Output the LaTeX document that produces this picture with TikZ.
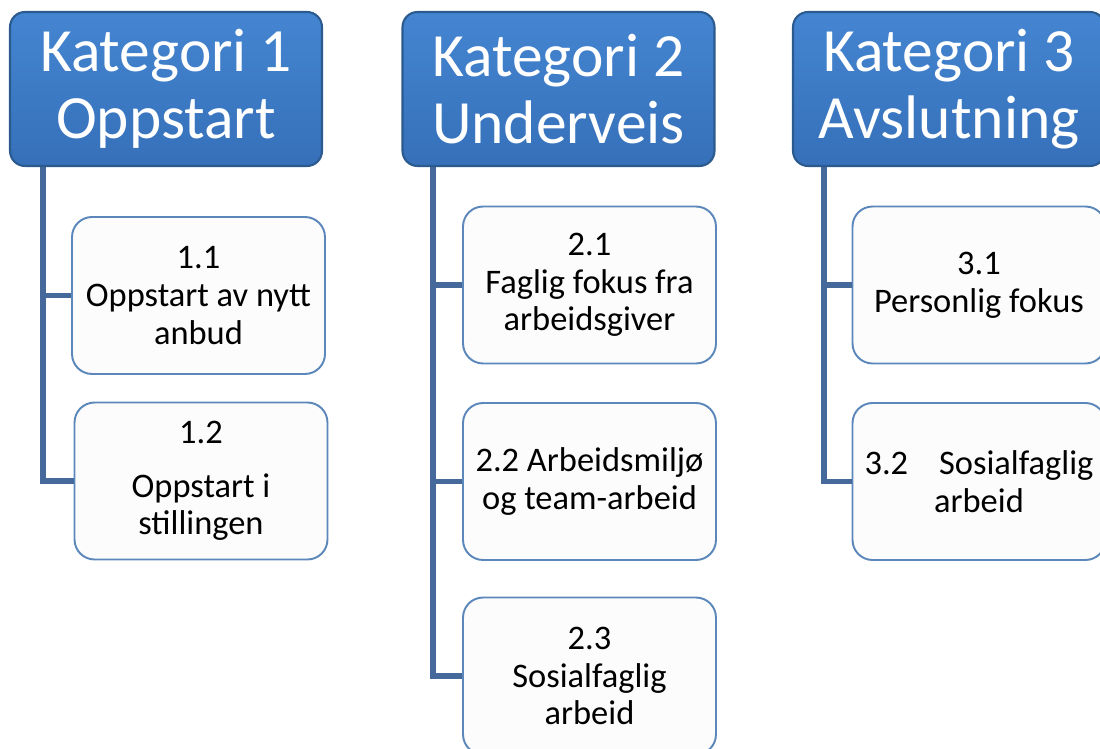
\documentclass[tikz,border=0pt]{standalone}
\usepackage{fontspec}
\setmainfont{Carlito}
\definecolor{kattop}{HTML}{4485D1}
\definecolor{katbot}{HTML}{3670B9}
\definecolor{katedge}{HTML}{2B5A8E}
\definecolor{boxedge}{HTML}{5B87BB}
\definecolor{linkblue}{HTML}{44699A}

\begin{document}
\begin{tikzpicture}[
		x=0.02cm, y=-0.02cm,
		kategori/.style={draw=katedge, line width=1.2pt, rounded corners=0.3cm,
			top color=kattop, bottom color=katbot, text=white, align=center,
			minimum width=6.24cm, minimum height=3.08cm, inner sep=0pt,
			font=\fontsize{35}{38}\selectfont},
		punkt/.style={draw=boxedge, line width=1.1pt, rounded corners=0.4cm,
			fill=white!99!black, align=center,
			minimum width=5.06cm, minimum height=3.14cm, inner sep=2pt,
			font=\fontsize{19.6}{21.5}\selectfont},
		grein/.style={draw=linkblue, line width=3.3pt}
		]
		\clip (0,0) rectangle (1100,749);

		\coordinate (s1) at (43,166);
		\coordinate (s2) at (433,166);
		\coordinate (s3) at (824,166);

		\node[punkt] (b11) at (198.5,295.5) {1.1\\Oppstart av nytt\\anbud};
		\node[punkt] (b12) at (201,481) {1.2\\[0.32cm]Oppstart i\\stillingen};

		\node[punkt] (b21) at (589.5,285) {2.1\\Faglig fokus fra\\arbeidsgiver};
		\node[punkt] (b22) at (589.5,481.5) {2.2 Arbeidsmiljø\\og team-arbeid};
		\node[punkt] (b23) at (589.5,676) {2.3\\Sosialfaglig\\arbeid};

		\node[punkt] (b31) at (979,285) {3.1\\Personlig fokus};
		\node[punkt] (b32) at (979,481.5) {3.2\hspace{0.9em}Sosialfaglig\\arbeid};

		\draw[grein] (s1) |- (b11.west);
		\draw[grein] (s1) |- (b12.west);
		\draw[grein] (s2) |- (b21.west);
		\draw[grein] (s2) |- (b22.west);
		\draw[grein] (s2) |- (b23.west);
		\draw[grein] (s3) |- (b31.west);
		\draw[grein] (s3) |- (b32.west);

		\node[kategori] (k1) at (166,89) {Kategori 1\\Oppstart};
		\node[kategori] (k2) at (558.5,89) {Kategori 2\\Underveis};
		\node[kategori] (k3) at (949,89) {Kategori 3\\Avslutning};
\end{tikzpicture}
\end{document}
